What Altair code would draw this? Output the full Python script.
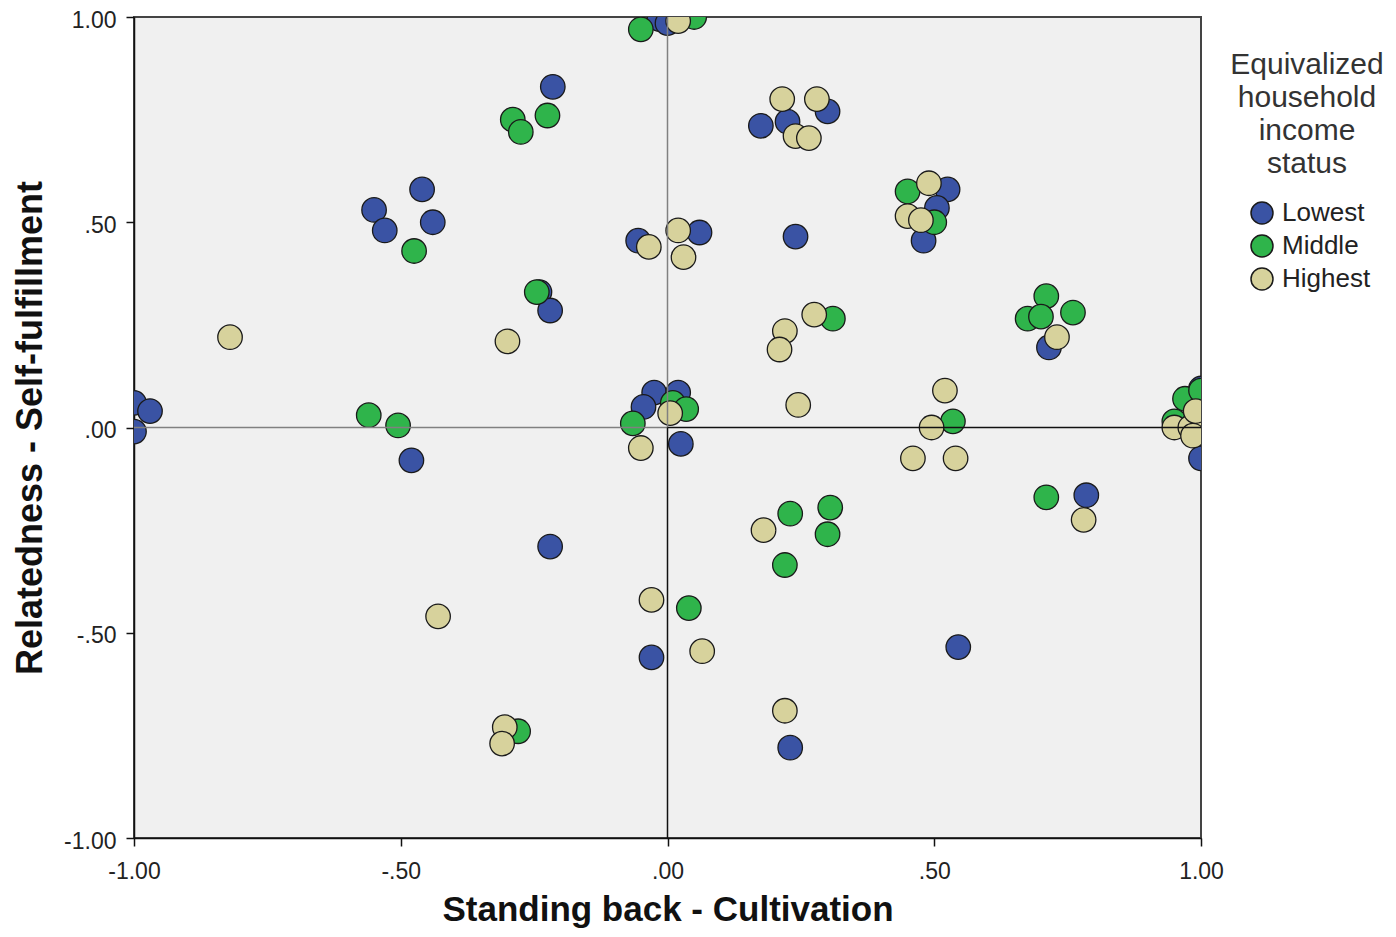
import altair as alt
import pandas as pd

groups = ["Lowest", "Middle", "Highest"]
group_colors = ["#3a53a4", "#2fb44b", "#d7d29c"]

lowest_x = [-1.00, -0.97, -1.00, -0.55, -0.53, -0.46, -0.44, -0.48, -0.215, -0.24, -0.22, -0.22,
            -0.015, 0.00, -0.055, 0.06, 0.175, 0.225, 0.30, 0.24, -0.025, -0.045, 0.02, 0.025,
            -0.03, 0.23, 0.525, 0.505, 0.48, 0.715, 0.545, 0.785, 1.00, 1.00]
lowest_y = [0.06, 0.04, -0.01, 0.53, 0.48, 0.58, 0.50, -0.08, 0.83, 0.33, 0.285, -0.29,
            0.995, 0.985, 0.455, 0.475, 0.735, 0.745, 0.77, 0.465, 0.085, 0.05, 0.085, -0.04,
            -0.56, -0.78, 0.58, 0.535, 0.455, 0.195, -0.535, -0.165, 0.095, -0.075]

middle_x = [-0.475, -0.56, -0.505, -0.29, -0.275, -0.225, -0.245, -0.05, 0.05, -0.065, 0.01, 0.035,
            0.04, -0.28, 0.23, 0.22, 0.305, 0.30, 0.31, 0.535, 0.45, 0.50, 0.71, 0.675, 0.70, 0.76,
            0.71, 0.97, 0.95, 1.00]
middle_y = [0.43, 0.03, 0.005, 0.75, 0.72, 0.76, 0.33, 0.97, 1.00, 0.01, 0.06, 0.045,
            -0.44, -0.74, -0.21, -0.335, -0.195, -0.26, 0.265, 0.015, 0.575, 0.50, 0.32, 0.265, 0.27, 0.28,
            -0.17, 0.07, 0.015, 0.09]

highest_x = [-0.82, -0.30, -0.305, -0.31, -0.43, -0.03, 0.065, 0.18, 0.22, 0.02, 0.215, 0.28,
             0.24, 0.265, 0.02, 0.03, -0.035, 0.005, -0.05, 0.275, 0.22, 0.21, 0.245, 0.52,
             0.495, 0.46, 0.54, 0.49, 0.45, 0.475, 0.73, 0.78, 0.95, 0.98, 0.99, 0.985]
highest_y = [0.22, 0.21, -0.73, -0.77, -0.46, -0.42, -0.545, -0.25, -0.69, 0.99, 0.80, 0.80,
             0.71, 0.705, 0.48, 0.415, 0.44, 0.035, -0.05, 0.275, 0.235, 0.19, 0.055, 0.09,
             0.00, -0.075, -0.075, 0.595, 0.515, 0.505, 0.22, -0.225, 0.00, 0.00, 0.04, -0.02]

tick_values = [-1.0, -0.5, 0.0, 0.5, 1.0]

# reference lines at zero (upper/left parts grey, lower/right parts black)
ref_grey_x = [0.0, -1.0]
ref_grey_y = [0.0, 0.0]
ref_grey_x2 = [0.0, 0.0]
ref_grey_y2 = [1.0, 0.0]
ref_black_x = [0.0, 0.0]
ref_black_y = [-1.0, 0.0]
ref_black_x2 = [0.0, 1.0]
ref_black_y2 = [0.0, 0.0]

rows = []
for g, xs, ys in zip(groups, [lowest_x, middle_x, highest_x], [lowest_y, middle_y, highest_y]):
    for a, b in zip(xs, ys):
        rows.append({"x": a, "y": b, "status": g})
df = pd.DataFrame(rows)
df["idx"] = range(len(df))

ref_grey = pd.DataFrame({"x": ref_grey_x, "y": ref_grey_y, "x2": ref_grey_x2, "y2": ref_grey_y2})
ref_black = pd.DataFrame({"x": ref_black_x, "y": ref_black_y, "x2": ref_black_x2, "y2": ref_black_y2})

label_expr = ("(datum.value < 0 ? '-' : '') + "
              "(abs(datum.value) < 1 ? replace(format(abs(datum.value), '.2f'), '0.', '.') "
              ": format(abs(datum.value), '.2f'))")

xscale = alt.Scale(domain=[-1, 1], nice=False, zero=False)
yscale = alt.Scale(domain=[-1, 1], nice=False, zero=False)

FONT = "Liberation Sans"

points = alt.Chart(df).mark_circle(
    size=600, opacity=1, stroke="#1a1a1a", strokeWidth=1.3, clip=True
).encode(
    x=alt.X("x:Q", scale=xscale,
            axis=alt.Axis(values=tick_values, labelExpr=label_expr, labelFlush=False,
                          title="Standing back - Cultivation",
                          labelPadding=14, titlePadding=9, titleFontSize=35)),
    y=alt.Y("y:Q", scale=yscale,
            axis=alt.Axis(values=tick_values, labelExpr=label_expr, labelFlush=False,
                          labelOffset=3,
                          title="Relatedness - Self-fulfillment",
                          labelPadding=10, titlePadding=14, titleFontSize=36)),
    color=alt.Color("status:N", scale=alt.Scale(domain=groups, range=group_colors),
                    legend=alt.Legend(
                        title=["Equivalized", "household", "income", "status"],
                        orient="none", legendX=1096, legendY=33,
                        titleAnchor="middle", titleAlign="center",
                        titleFontSize=30, titleFontWeight="normal", titleColor="#333333",
                        titleLineHeight=33, titlePadding=21, titleFont=FONT,
                        labelFontSize=26, labelFont=FONT, labelColor="#222222",
                        labelOffset=7, symbolOffset=6,
                        symbolType="circle", symbolSize=484,
                        symbolStrokeColor="#1a1a1a", symbolStrokeWidth=1.5,
                        symbolOpacity=1, rowPadding=5)),
    order=alt.Order("idx:Q"),
)

rules_grey = alt.Chart(ref_grey).mark_rule(color="#808080", strokeWidth=1.5).encode(
    x=alt.X("x:Q", scale=xscale), y=alt.Y("y:Q", scale=yscale),
    x2="x2:Q", y2="y2:Q")
rules_black = alt.Chart(ref_black).mark_rule(color="#111111", strokeWidth=1.5).encode(
    x=alt.X("x:Q", scale=xscale), y=alt.Y("y:Q", scale=yscale),
    x2="x2:Q", y2="y2:Q")

chart = alt.layer(points, rules_grey, rules_black).properties(
    width=1067, height=821,
    autosize=alt.AutoSizeParams(type="none"),
    padding={"left": 126, "top": 9, "right": 187, "bottom": 91},
).configure_view(
    fill="#f0f0f0", stroke="#444444", strokeWidth=2
).configure_axis(
    grid=False, domainColor="#111111", domainWidth=1.5,
    tickColor="#111111", tickSize=8, tickWidth=1.5,
    labelFont=FONT, labelFontSize=23, labelColor="#222222",
    titleFont=FONT, titleFontWeight="bold", titleColor="#111111",
)

chart.save("out.html", embed_options={"renderer": "svg", "actions": False})
